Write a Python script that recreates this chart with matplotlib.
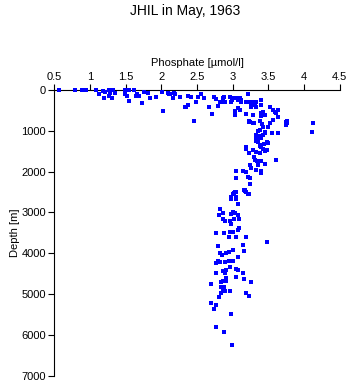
import matplotlib
matplotlib.use("Agg")
import matplotlib.pyplot as plt

title = "JHIL in May, 1963"
xlabel = "Phosphate [\u00b5mol/l]"
ylabel = "Depth [m]"
xticks = [0.5, 1, 1.5, 2, 2.5, 3, 3.5, 4, 4.5]
xtick_labels = ["0.5", "1", "1.5", "2", "2.5", "3", "3.5", "4", "4.5"]
yticks = [0, 1000, 2000, 3000, 4000, 5000, 6000, 7000]

phosphate = [
    0.57, 0.79, 0.89, 0.92, 0.94, 1.09, 1.12, 1.18, 1.21, 1.26, 1.28, 1.32, 1.19, 1.26, 1.31, 1.35,
    1.49, 1.55, 1.62, 1.49, 1.52, 1.54, 1.64, 1.66, 1.68, 1.73, 1.75, 1.82, 1.84, 1.93, 2.01, 2.02,
    2.10, 2.11, 2.12, 2.18, 2.19, 2.17, 2.26, 2.34, 2.38, 2.37, 2.41, 2.46, 2.48, 2.52, 2.55, 2.60,
    2.67, 2.71, 2.74, 2.77, 2.80, 2.82, 2.85, 2.88, 2.96, 2.98, 3.00, 3.03, 3.03, 3.05, 3.08, 3.10,
    3.12, 3.18, 3.19, 3.22, 3.24, 3.26, 3.29, 3.31, 3.33, 3.29, 3.23, 3.30, 3.38, 3.41, 3.43,
    3.32, 3.35, 3.38, 3.39, 3.40, 3.40, 3.40,
    2.87, 2.89, 2.99, 3.05, 3.08, 3.12, 3.03, 3.10, 3.26, 3.33,
    3.43, 3.45, 3.52, 3.57, 3.59, 3.61, 3.64, 3.64, 3.52, 3.57, 3.50, 3.24, 3.29, 3.76, 3.76, 3.64,
    3.36, 3.45, 3.42, 3.55, 3.50, 3.32, 3.38, 3.40, 3.44, 3.19,
    4.12, 4.11, 3.74, 3.74, 2.33, 3.23,
    3.45, 3.48, 3.40, 3.38, 3.33, 3.36, 3.40, 3.42, 3.28, 3.33, 3.45, 3.48, 3.18, 3.23, 3.38, 3.30,
    3.31, 3.34, 3.40, 3.36, 3.45, 3.24, 3.26, 3.61, 3.04, 3.15, 3.18, 3.33, 3.40, 3.40, 3.04, 3.22,
    3.24, 3.24, 3.02, 3.04, 3.17, 3.18, 3.22, 2.98, 2.97, 3.04,
    3.24, 3.16, 3.17, 3.23, 3.03, 3.00, 3.05, 3.08, 2.82, 2.87, 3.01, 3.03, 2.98, 2.81, 3.08, 3.09,
    3.02, 2.87, 2.89, 2.96, 2.98, 3.09, 3.08, 2.77, 2.88, 2.96, 3.01, 2.95, 3.05, 3.18, 3.48, 2.80,
    3.15, 3.16, 2.82, 2.85, 2.91, 2.95, 3.01, 3.08, 2.76, 2.80, 2.82, 2.89, 2.95, 3.01, 2.96, 2.77,
    2.87, 2.90, 2.89, 3.04, 3.08, 3.15, 3.04, 2.90, 3.16, 3.25, 2.70, 2.84, 2.87, 2.91, 2.84, 2.88,
    2.96, 2.84, 2.87, 2.89, 3.19, 3.23, 2.81, 2.70, 2.77, 2.74, 2.97, 2.77, 2.88, 2.99,
]
depth = [
    0, 0, 0, 0, 0, 0, 105, 40, 60, 0, 70, 0, 190, 150, 210, 65,
    0, 0, 0, 105, 155, 270, 155, 105, 155, 320, 60, 80, 200, 180, 60, 515,
    75, 105, 90, 75, 105, 200, 170, 420, 360, 150, 170, 770, 290, 170, 110, 200,
    420, 600, 170, 230, 400, 290, 290, 170, 170, 290, 200, 520, 620, 200, 440, 200,
    250, 600, 290, 110, 290, 360, 290, 370, 290, 620, 770, 800, 770, 840, 920,
    1100, 1180, 1140, 250, 370, 570, 650,
    205, 290, 245, 205, 245, 290, 515, 490, 410, 410,
    530, 615, 410, 490, 530, 570, 490, 655, 820, 740, 900, 780, 820, 760, 820, 1065,
    1000, 1030, 1100, 1060, 1300, 1250, 1380, 1400, 1320, 1390,
    820, 1040, 780, 860, 425, 795,
    1065, 1270, 1190, 985, 1145, 1270, 1350, 1435, 1475, 1515, 1490, 1475, 1435, 1555, 1555, 1655,
    1720, 1745, 1735, 1840, 1820, 1840, 1900, 1720, 1980, 1980, 2005, 1965, 1980, 2030, 2145, 2130,
    2145, 2295, 2520, 2500, 2440, 2500, 2555, 2620, 2660, 2660,
    2310, 2440, 2480, 2560, 2500, 2540, 2620, 2785, 2925, 3005, 2990, 3005, 3045, 3055, 3070, 3155,
    3155, 3155, 3210, 3210, 3275, 3375, 3440, 3500, 3500, 3480, 3480, 3600, 3600, 3600, 3720, 3810,
    3790, 3950, 4000, 4030, 4000, 3975, 3930, 4095, 4240, 4180, 4200, 4200, 4190, 4190, 4325, 4490,
    4440, 4420, 4490, 4380, 4420, 4480, 4570, 4610, 4630, 4710, 4750, 4710, 4670, 4670, 4815, 4815,
    4915, 4970, 4930, 4915, 4970, 5045, 5060, 5215, 5260, 5350, 5490, 5800, 5920, 6240,
]

plt.rcParams['font.family'] = ['Liberation Sans', 'DejaVu Sans']
fig = plt.figure(figsize=(3.5, 3.84), dpi=100)
ax = fig.add_axes([0.155, 0.021, 0.816, 0.745])
ax.scatter(phosphate, depth, s=5.5, marker='s', color='#0000ff', linewidths=0,
           clip_on=False, zorder=3)
ax.set_xlim(0.5, 4.5)
ax.set_ylim(7000, 0)
ax.xaxis.tick_top()
ax.xaxis.set_label_position('top')
ax.set_xticks(xticks)
ax.set_xticklabels(xtick_labels)
ax.set_yticks(yticks)
ax.tick_params(axis='both', labelsize=8, length=4, width=0.8, direction='out', pad=2)
ax.tick_params(axis='x', top=True, bottom=False)
for s in ['right', 'bottom']:
    ax.spines[s].set_visible(False)
for s in ['left', 'top']:
    ax.spines[s].set_linewidth(0.8)
ax.set_xlabel(xlabel, fontsize=8, labelpad=4)
ax.set_ylabel(ylabel, fontsize=8, labelpad=1)
fig.text(0.53, 0.972, title, ha='center', va='center', fontsize=10)
fig.savefig('out.png', dpi=100)
